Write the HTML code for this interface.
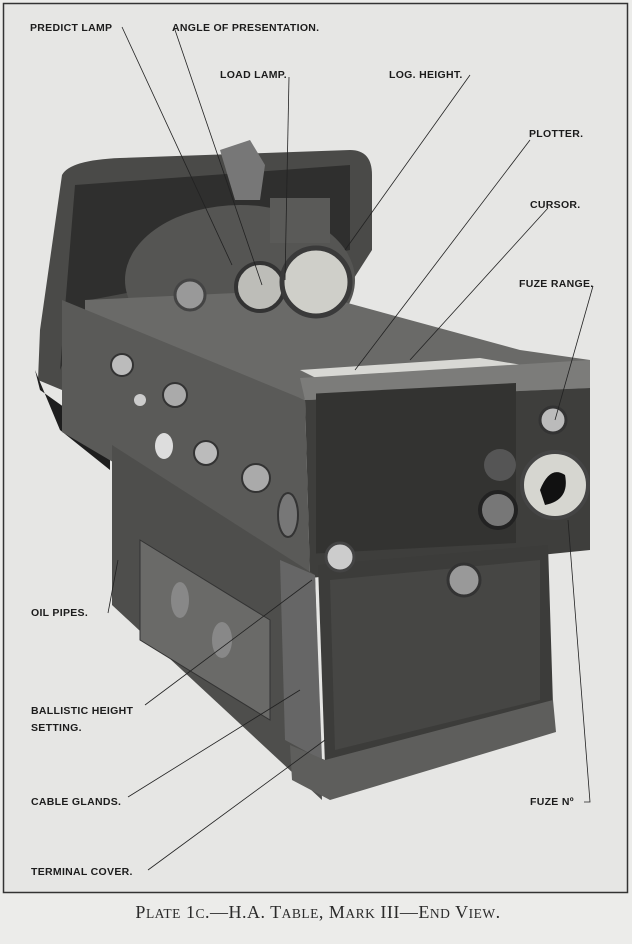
<!DOCTYPE html>
<html><head><meta charset="utf-8"><style>
html,body{margin:0;padding:0;background:#ececea;}
svg{display:block}
.l{font-family:"Liberation Sans",sans-serif;font-size:10.5px;font-weight:bold;fill:#1c1c1c;letter-spacing:0.3px}
</style></head><body>
<svg width="632" height="944" viewBox="0 0 632 944" xmlns="http://www.w3.org/2000/svg">
<rect x="0" y="0" width="632" height="944" fill="#ececea"/>
<rect x="3.5" y="3.5" width="624" height="889" fill="#e6e6e4" stroke="#333" stroke-width="1.5"/>
<path d="M62,175 Q70,160 120,158 L350,150 Q372,150 372,175 L372,250 L340,300 L90,300 L62,390 L38,380 L40,330 Z" fill="#4a4a48"/>
<path d="M75,185 L350,165 L350,250 L90,300 L60,370 Z" fill="#2f2f2e"/>
<ellipse cx="240" cy="280" rx="115" ry="75" fill="#555553"/>
<path d="M35,370 L60,430 L110,470 L110,440 L40,390 Z" fill="#1e1e1e"/>
<path d="M85,300 L300,290 L520,350 L590,360 L590,390 L305,400 L85,320 Z" fill="#6a6a68"/>
<path d="M300,370 L480,358 L540,368 L330,385 Z" fill="#d8d8d4"/>
<circle cx="260" cy="287" r="24" fill="#bdbdb8" stroke="#333" stroke-width="4"/>
<circle cx="316" cy="282" r="34" fill="#cfcfc9" stroke="#3a3a3a" stroke-width="5"/>
<rect x="270" y="198" width="60" height="45" fill="#5a5a58"/>
<path d="M220,150 L250,140 L265,165 L260,200 L235,200 Z" fill="#777"/>
<circle cx="190" cy="295" r="15" fill="#999" stroke="#444" stroke-width="3"/>
<path d="M62,300 L305,400 L310,578 L62,432 Z" fill="#5a5a58"/>
<circle cx="122" cy="365" r="11" fill="#bbb" stroke="#333" stroke-width="2"/>
<circle cx="175" cy="395" r="12" fill="#aaa" stroke="#333" stroke-width="2"/>
<ellipse cx="164" cy="446" rx="9" ry="13" fill="#ddd"/>
<circle cx="206" cy="453" r="12" fill="#bbb" stroke="#333" stroke-width="2"/>
<circle cx="256" cy="478" r="14" fill="#aaa" stroke="#333" stroke-width="2"/>
<ellipse cx="288" cy="515" rx="10" ry="22" fill="#777" stroke="#333" stroke-width="2"/>
<circle cx="140" cy="400" r="6" fill="#ccc"/>
<path d="M305,400 L590,388 L590,550 L310,578 Z" fill="#3e3e3c"/>
<path d="M305,400 L590,388 L590,360 L300,378 Z" fill="#7c7c7a"/>
<rect x="316" y="410" width="200" height="160" fill="#333331" transform="skewY(-3)"/>
<circle cx="555" cy="485" r="33" fill="#d6d6d0" stroke="#444" stroke-width="4"/>
<path d="M540,490 Q550,465 565,475 Q570,500 545,505 Z" fill="#111"/>
<circle cx="498" cy="510" r="18" fill="#777" stroke="#222" stroke-width="4"/>
<circle cx="500" cy="465" r="16" fill="#555"/>
<circle cx="553" cy="420" r="13" fill="#bbb" stroke="#333" stroke-width="3"/>
<path d="M112,445 L315,575 L322,800 L112,605 Z" fill="#4e4e4c"/>
<path d="M140,540 L270,620 L270,720 L140,640 Z" fill="#6a6a68" stroke="#333"/>
<ellipse cx="180" cy="600" rx="9" ry="18" fill="#888"/>
<ellipse cx="222" cy="640" rx="10" ry="18" fill="#888"/>
<path d="M318,565 L548,545 L553,705 L325,765 Z" fill="#3c3c3a"/>
<path d="M330,580 L540,560 L540,700 L335,750 Z" fill="#464644"/>
<circle cx="464" cy="580" r="16" fill="#999" stroke="#333" stroke-width="3"/>
<circle cx="340" cy="557" r="14" fill="#ccc" stroke="#444" stroke-width="3"/>
<path d="M280,560 L315,575 L322,760 L285,740 Z" fill="#666"/>
<path d="M290,745 L325,760 L553,700 L556,732 L330,800 L292,780 Z" fill="#5e5e5c"/>
<g stroke="#222" stroke-width="0.8" fill="none">
<path d="M122,27 L232,265"/><path d="M174,27 L262,285"/><path d="M289,77 L285,280"/>
<path d="M470,75 L345,250"/><path d="M530,140 L355,370"/><path d="M548,208 L410,360"/>
<path d="M593,286 L555,420"/><path d="M108,613 L118,560"/><path d="M145,705 L312,580"/>
<path d="M128,797 L300,690"/><path d="M148,870 L325,740"/><path d="M584,802 L590,802 L568,520"/>
</g>
<text class="l" x="30" y="31">PREDICT LAMP</text>
<text class="l" x="172" y="31">ANGLE OF PRESENTATION.</text>
<text class="l" x="220" y="78">LOAD LAMP.</text>
<text class="l" x="389" y="78">LOG. HEIGHT.</text>
<text class="l" x="529" y="137">PLOTTER.</text>
<text class="l" x="530" y="208">CURSOR.</text>
<text class="l" x="519" y="287">FUZE RANGE.</text>
<text class="l" x="31" y="616">OIL PIPES.</text>
<text class="l" x="31" y="714">BALLISTIC HEIGHT</text>
<text class="l" x="31" y="731">SETTING.</text>
<text class="l" x="31" y="805">CABLE GLANDS.</text>
<text class="l" x="530" y="805">FUZE Nº</text>
<text class="l" x="31" y="875">TERMINAL COVER.</text>
<text x="318" y="918" text-anchor="middle" font-family="Liberation Serif,serif" font-size="18" fill="#2a2a2a" letter-spacing="0.5">P<tspan font-size="13.5">LATE</tspan> 1<tspan font-size="13.5">C</tspan>.—H.A. T<tspan font-size="13.5">ABLE</tspan>, M<tspan font-size="13.5">ARK</tspan> III—E<tspan font-size="13.5">ND</tspan> V<tspan font-size="13.5">IEW</tspan>.</text>
</svg>
</body></html>
